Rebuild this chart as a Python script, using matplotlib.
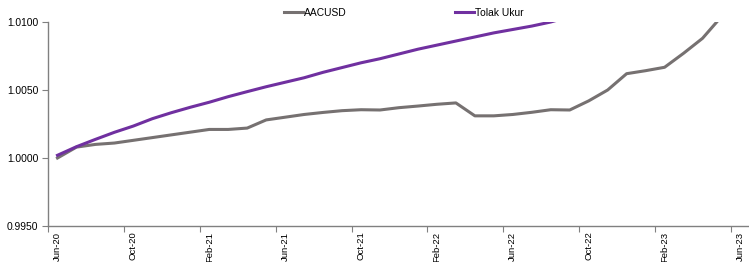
import matplotlib.pyplot as plt
import numpy as np

plt.rcParams['font.family'] = ['Liberation Sans', 'DejaVu Sans']

months = ['Jun-20', 'Jul-20', 'Aug-20', 'Sep-20', 'Oct-20', 'Nov-20', 'Dec-20',
          'Jan-21', 'Feb-21', 'Mar-21', 'Apr-21', 'May-21', 'Jun-21', 'Jul-21',
          'Aug-21', 'Sep-21', 'Oct-21', 'Nov-21', 'Dec-21', 'Jan-22', 'Feb-22',
          'Mar-22', 'Apr-22', 'May-22', 'Jun-22', 'Jul-22', 'Aug-22', 'Sep-22',
          'Oct-22', 'Nov-22', 'Dec-22', 'Jan-23', 'Feb-23', 'Mar-23', 'Apr-23',
          'May-23', 'Jun-23']

aacusd = [1.0000, 1.0008, 1.0010, 1.0011, 1.0013, 1.0015, 1.0017, 1.0019,
          1.0021, 1.0021, 1.0022, 1.0028, 1.0030, 1.0032, 1.00335, 1.00348,
          1.00355, 1.00353, 1.0037, 1.00382, 1.00395, 1.00405, 1.0031, 1.0031,
          1.0032, 1.00336, 1.00355, 1.00353, 1.0042, 1.0050, 1.0062, 1.00642,
          1.00667, 1.0077, 1.0088, 1.0104]

tolak_ukur = [1.0002, 1.00083, 1.00137, 1.00189, 1.00235, 1.00289, 1.00333,
              1.00373, 1.0041, 1.00451, 1.00488, 1.00524, 1.00557, 1.0059,
              1.0063, 1.00665, 1.0070, 1.0073, 1.00765, 1.0080, 1.0083, 1.0086,
              1.0089, 1.0092, 1.00945, 1.0097, 1.0100, 1.0104]

fig = plt.figure(figsize=(7.49, 2.62), dpi=100)
ax = fig.add_axes([48/749, 1 - 226/262, 1 - 48/749, 204/262])

ax.plot(np.arange(len(aacusd)), aacusd, color='#767171', lw=2.2, label='AACUSD')
ax.plot(np.arange(len(tolak_ukur)), tolak_ukur, color='#7030A0', lw=2.2, label='Tolak Ukur')

ax.set_xlim(-0.5, 36.45)
ax.set_ylim(0.9950, 1.0100)
ax.set_yticks([0.9950, 1.0000, 1.0050, 1.0100])
ax.set_yticklabels(['%.4f' % v for v in [0.9950, 1.0000, 1.0050, 1.0100]], fontsize=7.4)

lab_idx = np.arange(0, len(months), 4)
ax.set_xticks(lab_idx - 0.5)
ax.set_xticklabels([])
ax.set_xticks(lab_idx, minor=True)
ax.set_xticklabels([months[i] for i in lab_idx], minor=True, rotation=90, fontsize=6.8)
ax.tick_params(axis='x', which='minor', length=0, pad=4)
ax.tick_params(axis='x', which='major', length=4, direction='out', color='#808080')
ax.tick_params(axis='y', length=4, direction='out', color='#808080', pad=3)

for s in ['top', 'right']:
    ax.spines[s].set_visible(False)
for s in ['left', 'bottom']:
    ax.spines[s].set_color('#808080')
    ax.spines[s].set_linewidth(1.0)

ax.legend(loc='lower left', bbox_to_anchor=((284 - 48) / 701, 1.02), ncol=2, frameon=False,
          fontsize=7.4, handlelength=1.8, handletextpad=0.1, columnspacing=10.6,
          borderaxespad=0, borderpad=0)

plt.savefig('out.png', dpi=100)
